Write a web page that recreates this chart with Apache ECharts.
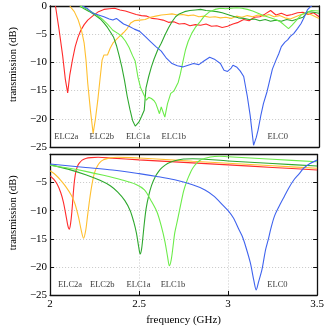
<!DOCTYPE html>
<html><head><meta charset="utf-8">
<script src="https://cdn.jsdelivr.net/npm/echarts@6/dist/echarts.min.js"></script>
<style>html,body{margin:0;padding:0;background:#fff}#c{width:327px;height:327px}</style>
</head><body><div id="c"></div>
<script>
// ---------- data (frequency GHz, transmission dB) ----------
const seriesNames = ['ELC2a','ELC2b','ELC1a','ELC1b','ELC0'];
const xTicks = [2, 2.5, 3, 3.5];
const yTicks = [0, -5, -10, -15, -20, -25];

// measured (top panel)
const measELC2a = [[2.03,0],[2.05,-4.2],[2.07,-8.8],[2.085,-13],[2.098,-15.4],[2.11,-12.2],[2.125,-9.5],[2.14,-7.2],[2.155,-5.6],[2.17,-4.4],[2.19,-3.3],[2.21,-2.5],[2.24,-1.7],[2.27,-1.0],[2.30,-0.6],[2.33,-0.5],[2.36,-0.4],[2.39,-0.7],[2.42,-0.9],[2.45,-1.2],[2.48,-1.5],[2.51,-1.7],[2.54,-1.8],[2.57,-2.2],[2.60,-2.3],[2.63,-2.5],[2.66,-2.9],[2.69,-2.8],[2.72,-3.2],[2.75,-3.1],[2.78,-3.5],[2.81,-3.3],[2.84,-3.4],[2.87,-3.2],[2.90,-3.6],[2.93,-3.5],[2.96,-3.8],[2.99,-3.6],[3.02,-3.2],[3.05,-2.9],[3.08,-2.4],[3.11,-2.6],[3.14,-2.0],[3.17,-1.9],[3.20,-1.4],[3.23,-0.8],[3.26,-1.6],[3.29,-1.3],[3.32,-1.7],[3.35,-1.5],[3.38,-1.2],[3.41,-1.1],[3.44,-1.5],[3.47,-1.2],[3.5,-1.9]];
const measELC2b = [[2.11,0],[2.135,-1.0],[2.157,-2.5],[2.175,-4.3],[2.19,-6.6],[2.2,-9.5],[2.21,-13.7],[2.225,-18.5],[2.24,-22.6],[2.253,-20],[2.266,-16.7],[2.28,-12.5],[2.29,-9.6],[2.3,-8.7],[2.31,-8.4],[2.32,-8.7],[2.335,-7.5],[2.35,-6.6],[2.37,-5.9],[2.39,-5.3],[2.41,-4.7],[2.43,-4.0],[2.45,-3.0],[2.47,-2.6],[2.50,-2.5],[2.53,-2.4],[2.56,-2.0],[2.59,-1.8],[2.62,-1.6],[2.65,-1.5],[2.68,-1.4],[2.71,-1.6],[2.74,-1.5],[2.77,-1.7],[2.80,-1.6],[2.83,-1.9],[2.86,-1.8],[2.89,-2.0],[2.92,-1.9],[2.95,-2.1],[2.98,-2.0],[3.01,-2.2],[3.04,-1.8],[3.07,-2.0],[3.10,-1.7],[3.13,-1.9],[3.16,-1.6],[3.19,-1.8],[3.22,-1.5],[3.25,-1.9],[3.28,-1.7],[3.31,-2.1],[3.34,-2.3],[3.37,-1.9],[3.40,-1.5],[3.43,-1.3],[3.46,-1.6],[3.5,-2.2]];
const measELC1a = [[2.165,0],[2.19,-0.5],[2.22,-1.0],[2.25,-1.6],[2.28,-2.3],[2.30,-3.0],[2.32,-3.8],[2.34,-4.8],[2.355,-5.6],[2.37,-7],[2.385,-8.8],[2.40,-10.8],[2.415,-13.2],[2.43,-16],[2.445,-18.3],[2.46,-20.3],[2.475,-21.3],[2.485,-21.4],[2.495,-20.6],[2.51,-19.6],[2.525,-18.5],[2.535,-14.5],[2.55,-12.5],[2.565,-10.8],[2.58,-9.4],[2.60,-7.8],[2.62,-6.6],[2.64,-5.2],[2.66,-3.9],[2.68,-2.8],[2.70,-1.9],[2.72,-1.4],[2.75,-1.0],[2.78,-0.8],[2.81,-0.7],[2.84,-0.6],[2.87,-0.8],[2.90,-0.9],[2.93,-1.0],[2.96,-1.2],[2.99,-1.5],[3.02,-1.8],[3.05,-2.1],[3.08,-2.2],[3.11,-2.4],[3.14,-2.3],[3.17,-2.6],[3.20,-2.4],[3.23,-2.7],[3.26,-2.5],[3.29,-2.7],[3.32,-2.4],[3.35,-2.6],[3.38,-2.3],[3.41,-2.0],[3.44,-1.0],[3.47,-1.1],[3.5,-1.3]];
const measELC1b = [[2.17,0],[2.20,-0.5],[2.23,-1.0],[2.26,-1.6],[2.29,-2.3],[2.32,-3.2],[2.35,-4.3],[2.38,-4.9],[2.40,-5.4],[2.42,-6.2],[2.44,-7.3],[2.46,-8.8],[2.475,-9.8],[2.49,-12.6],[2.505,-14.5],[2.52,-15.5],[2.537,-16.7],[2.55,-16.2],[2.565,-16.4],[2.58,-16.8],[2.59,-17.3],[2.60,-18.2],[2.61,-19.1],[2.62,-17.9],[2.628,-17.9],[2.64,-19.7],[2.655,-17.3],[2.673,-15.5],[2.69,-15.1],[2.70,-14.9],[2.715,-13.5],[2.727,-12],[2.74,-10],[2.755,-7.8],[2.77,-6.3],[2.79,-4.85],[2.81,-3.8],[2.836,-2.8],[2.86,-1.8],[2.89,-1.0],[2.92,-0.6],[2.95,-0.4],[2.98,-0.5],[3.01,-0.4],[3.04,-0.3],[3.07,-0.4],[3.10,-0.6],[3.13,-0.9],[3.16,-1.3],[3.19,-1.7],[3.22,-2.0],[3.25,-2.3],[3.28,-2.7],[3.30,-3.2],[3.33,-4.0],[3.35,-3.4],[3.37,-2.7],[3.40,-1.6],[3.43,-1.1],[3.46,-0.8],[3.5,-0.9]];
const measELC0 = [[2.18,0],[2.21,-0.5],[2.24,-1.3],[2.27,-1.6],[2.30,-1.9],[2.33,-2.3],[2.35,-2.5],[2.37,-2.2],[2.39,-2.7],[2.41,-3.2],[2.44,-3.6],[2.47,-4.1],[2.50,-4.5],[2.53,-5.4],[2.56,-6.3],[2.59,-7.2],[2.62,-8.0],[2.65,-9.3],[2.68,-10.2],[2.71,-10.6],[2.74,-10.8],[2.77,-10.5],[2.80,-10.2],[2.83,-10.4],[2.86,-9.7],[2.89,-9.1],[2.92,-9.5],[2.95,-10.2],[2.97,-11.4],[2.99,-11.6],[3.01,-11.0],[3.02,-10.5],[3.04,-10.8],[3.06,-11.5],[3.08,-12.5],[3.10,-16],[3.116,-19.4],[3.135,-24.7],[3.15,-23.3],[3.16,-22],[3.175,-19.5],[3.19,-17.3],[3.21,-15.2],[3.225,-13.2],[3.24,-11.2],[3.26,-9.6],[3.275,-8.5],[3.29,-7.2],[3.31,-6.4],[3.325,-6.0],[3.34,-5.4],[3.36,-4.85],[3.38,-4.0],[3.40,-3.1],[3.42,-1.8],[3.435,-0.7],[3.45,-0.2],[3.46,0]];

// simulated (bottom panel)
const simELC2a = [[2.0,-3.8],[2.02,-4.4],[2.04,-5.3],[2.06,-6.8],[2.075,-8.5],[2.09,-11],[2.1,-12.7],[2.108,-13.3],[2.115,-12.3],[2.122,-10.3],[2.13,-7],[2.137,-4.6],[2.145,-3.0],[2.155,-2.0],[2.165,-1.5],[2.18,-1.0],[2.2,-0.7],[2.23,-0.55],[2.27,-0.5],[2.35,-0.65],[2.5,-0.95],[2.75,-1.4],[3.0,-1.85],[3.25,-2.3],[3.5,-2.75]];
const simELC2b = [[2.0,-2.9],[2.03,-3.6],[2.06,-4.6],[2.09,-5.8],[2.12,-7.3],[2.14,-8.8],[2.16,-11.2],[2.175,-13.5],[2.188,-14.9],[2.2,-13.5],[2.21,-11],[2.22,-8.5],[2.23,-6.3],[2.24,-4.5],[2.25,-3.2],[2.265,-2.1],[2.28,-1.4],[2.3,-0.95],[2.33,-0.65],[2.38,-0.5],[2.45,-0.55],[2.6,-0.8],[2.8,-1.2],[3.0,-1.55],[3.25,-2.0],[3.5,-2.45]];
const simELC1a = [[2.0,-1.85],[2.1,-2.6],[2.2,-3.6],[2.28,-4.6],[2.34,-5.6],[2.38,-6.7],[2.42,-8.2],[2.45,-10],[2.47,-12],[2.485,-14],[2.498,-16.5],[2.506,-17.7],[2.514,-16.8],[2.522,-14.5],[2.53,-12],[2.54,-9.5],[2.555,-7.2],[2.57,-5.5],[2.59,-4.0],[2.61,-3.0],[2.63,-2.3],[2.66,-1.6],[2.7,-1.1],[2.75,-0.8],[2.8,-0.75],[3.0,-1.15],[3.25,-1.6],[3.5,-2.05]];
const simELC1b = [[2.0,-1.9],[2.1,-2.4],[2.2,-3.0],[2.3,-3.7],[2.4,-4.5],[2.48,-5.3],[2.53,-6.3],[2.565,-8.1],[2.6,-10.2],[2.625,-12.8],[2.645,-15.5],[2.66,-18.2],[2.67,-19.8],[2.68,-18.8],[2.69,-16.5],[2.7,-14],[2.71,-12.5],[2.72,-11],[2.735,-8.7],[2.75,-6.5],[2.765,-5.0],[2.78,-3.8],[2.8,-2.5],[2.825,-1.5],[2.85,-0.9],[2.9,-0.45],[2.95,-0.3],[3.0,-0.4],[3.25,-0.85],[3.5,-1.3]];
const simELC0 = [[2.0,-1.7],[2.2,-2.3],[2.35,-2.75],[2.5,-3.4],[2.6,-3.9],[2.7,-4.5],[2.8,-5.4],[2.87,-6.3],[2.92,-7.4],[2.97,-9.0],[3.0,-10],[3.03,-11.3],[3.06,-13.3],[3.08,-14.6],[3.1,-16.5],[3.125,-19.3],[3.145,-22.5],[3.158,-24.1],[3.17,-22.8],[3.19,-20.5],[3.21,-17],[3.225,-15.2],[3.24,-13.2],[3.26,-11],[3.29,-9.0],[3.315,-7.5],[3.34,-6.0],[3.37,-4.5],[3.4,-3.4],[3.424,-2.45],[3.46,-1.6],[3.5,-1.0]];

// label anchor positions (data coords)
const topLabelF = [2.09, 2.288, 2.49, 2.69, 3.27];
const bottomLabelF = [2.112, 2.293, 2.497, 2.69, 3.277];
const labelDB = -23.2;

// ---------- styling ----------
const colors = ['#ff2b2b','#ffbf2e','#2ea82e','#6cec4a','#3f63ee'];
const FONT = 'Liberation Serif';
const minus = v => v === 0 ? '0' : (v < 0 ? '\u2212' + Math.abs(v) : String(v));

const gridTop = {left: 43, right: 8, top: 6, height: 141};
const gridBot = {left: 43, right: 8, top: 154.5, height: 141};

function xAx(gi, pos, labels, primary) {
  return {
    type: 'value', gridIndex: gi, position: pos, min: 2, max: 3.5, interval: 0.5,
    axisLine: {show: true, onZero: false, lineStyle: {color: '#111', width: 1.3}},
    axisTick: {show: true, inside: true, length: 4, lineStyle: {color: '#111'}},
    axisLabel: {show: labels, margin: 4, color: '#000', fontFamily: FONT, fontSize: 11,
      formatter: v => String(v)},
    splitLine: {show: primary, lineStyle: {color: '#c8c8c8', type: [1, 2], width: 1}}
  };
}
function yAx(gi, pos, labels, primary, hideZero) {
  return {
    type: 'value', gridIndex: gi, position: pos, min: -25, max: 0, interval: 5,
    axisLine: {show: true, onZero: false, lineStyle: {color: '#111', width: 1.3}},
    axisTick: {show: true, inside: true, length: 4, lineStyle: {color: '#111'}},
    axisLabel: {show: labels, margin: 3, color: '#000', fontFamily: FONT, fontSize: 11,
      formatter: v => (hideZero && v === 0) ? '' : minus(v)},
    splitLine: {show: primary, lineStyle: {color: '#c8c8c8', type: [1, 2], width: 1}},
    name: primary ? 'transmission (dB)' : '', nameLocation: 'middle', nameGap: 30,
    nameTextStyle: {fontFamily: FONT, fontSize: 10.5, color: '#000', padding: [0, 0, 0, 24]}
  };
}

const topData = [measELC2a, measELC2b, measELC1a, measELC1b, measELC0];
const botData = [simELC2a, simELC2b, simELC1a, simELC1b, simELC0];

const series = [];
topData.forEach((d, i) => series.push({
  type: 'line', xAxisIndex: 0, yAxisIndex: 0, data: d, showSymbol: false, symbol: 'none',
  lineStyle: {color: colors[i], width: 1.1}, clip: true, z: 3
}));
botData.forEach((d, i) => series.push({
  type: 'line', xAxisIndex: 2, yAxisIndex: 2, data: d, showSymbol: false, symbol: 'none', smooth: 0.3,
  lineStyle: {color: colors[i], width: 1.1}, clip: true, z: 3
}));
const lbl = {show: true, position: 'inside', formatter: p => p.name, color: '#000', fontFamily: FONT, fontSize: 8.5};
series.push({type: 'scatter', xAxisIndex: 0, yAxisIndex: 0, symbolSize: 0, label: lbl, silent: true,
  data: seriesNames.map((n, i) => ({name: n, value: [topLabelF[i], labelDB]}))});
series.push({type: 'scatter', xAxisIndex: 2, yAxisIndex: 2, symbolSize: 0, label: lbl, silent: true,
  data: seriesNames.map((n, i) => ({name: n, value: [bottomLabelF[i], labelDB]}))});

const chart = echarts.init(document.getElementById('c'), null, {renderer: 'canvas'});
chart.setOption({
  animation: false,
  backgroundColor: '#fff',
  grid: [gridTop, gridBot],
  xAxis: [
    xAx(0, 'bottom', false, true), xAx(0, 'top', false, false),
    Object.assign(xAx(1, 'bottom', true, true), {name: 'frequency (GHz)', nameLocation: 'middle', nameGap: 20,
      nameTextStyle: {fontFamily: FONT, fontSize: 11, color: '#000'}}),
    xAx(1, 'top', false, false)
  ],
  yAxis: [
    yAx(0, 'left', true, true, false), yAx(0, 'right', false, false, false),
    yAx(1, 'left', true, true, true), yAx(1, 'right', false, false, false)
  ],
  series: series
});
</script></body></html>
